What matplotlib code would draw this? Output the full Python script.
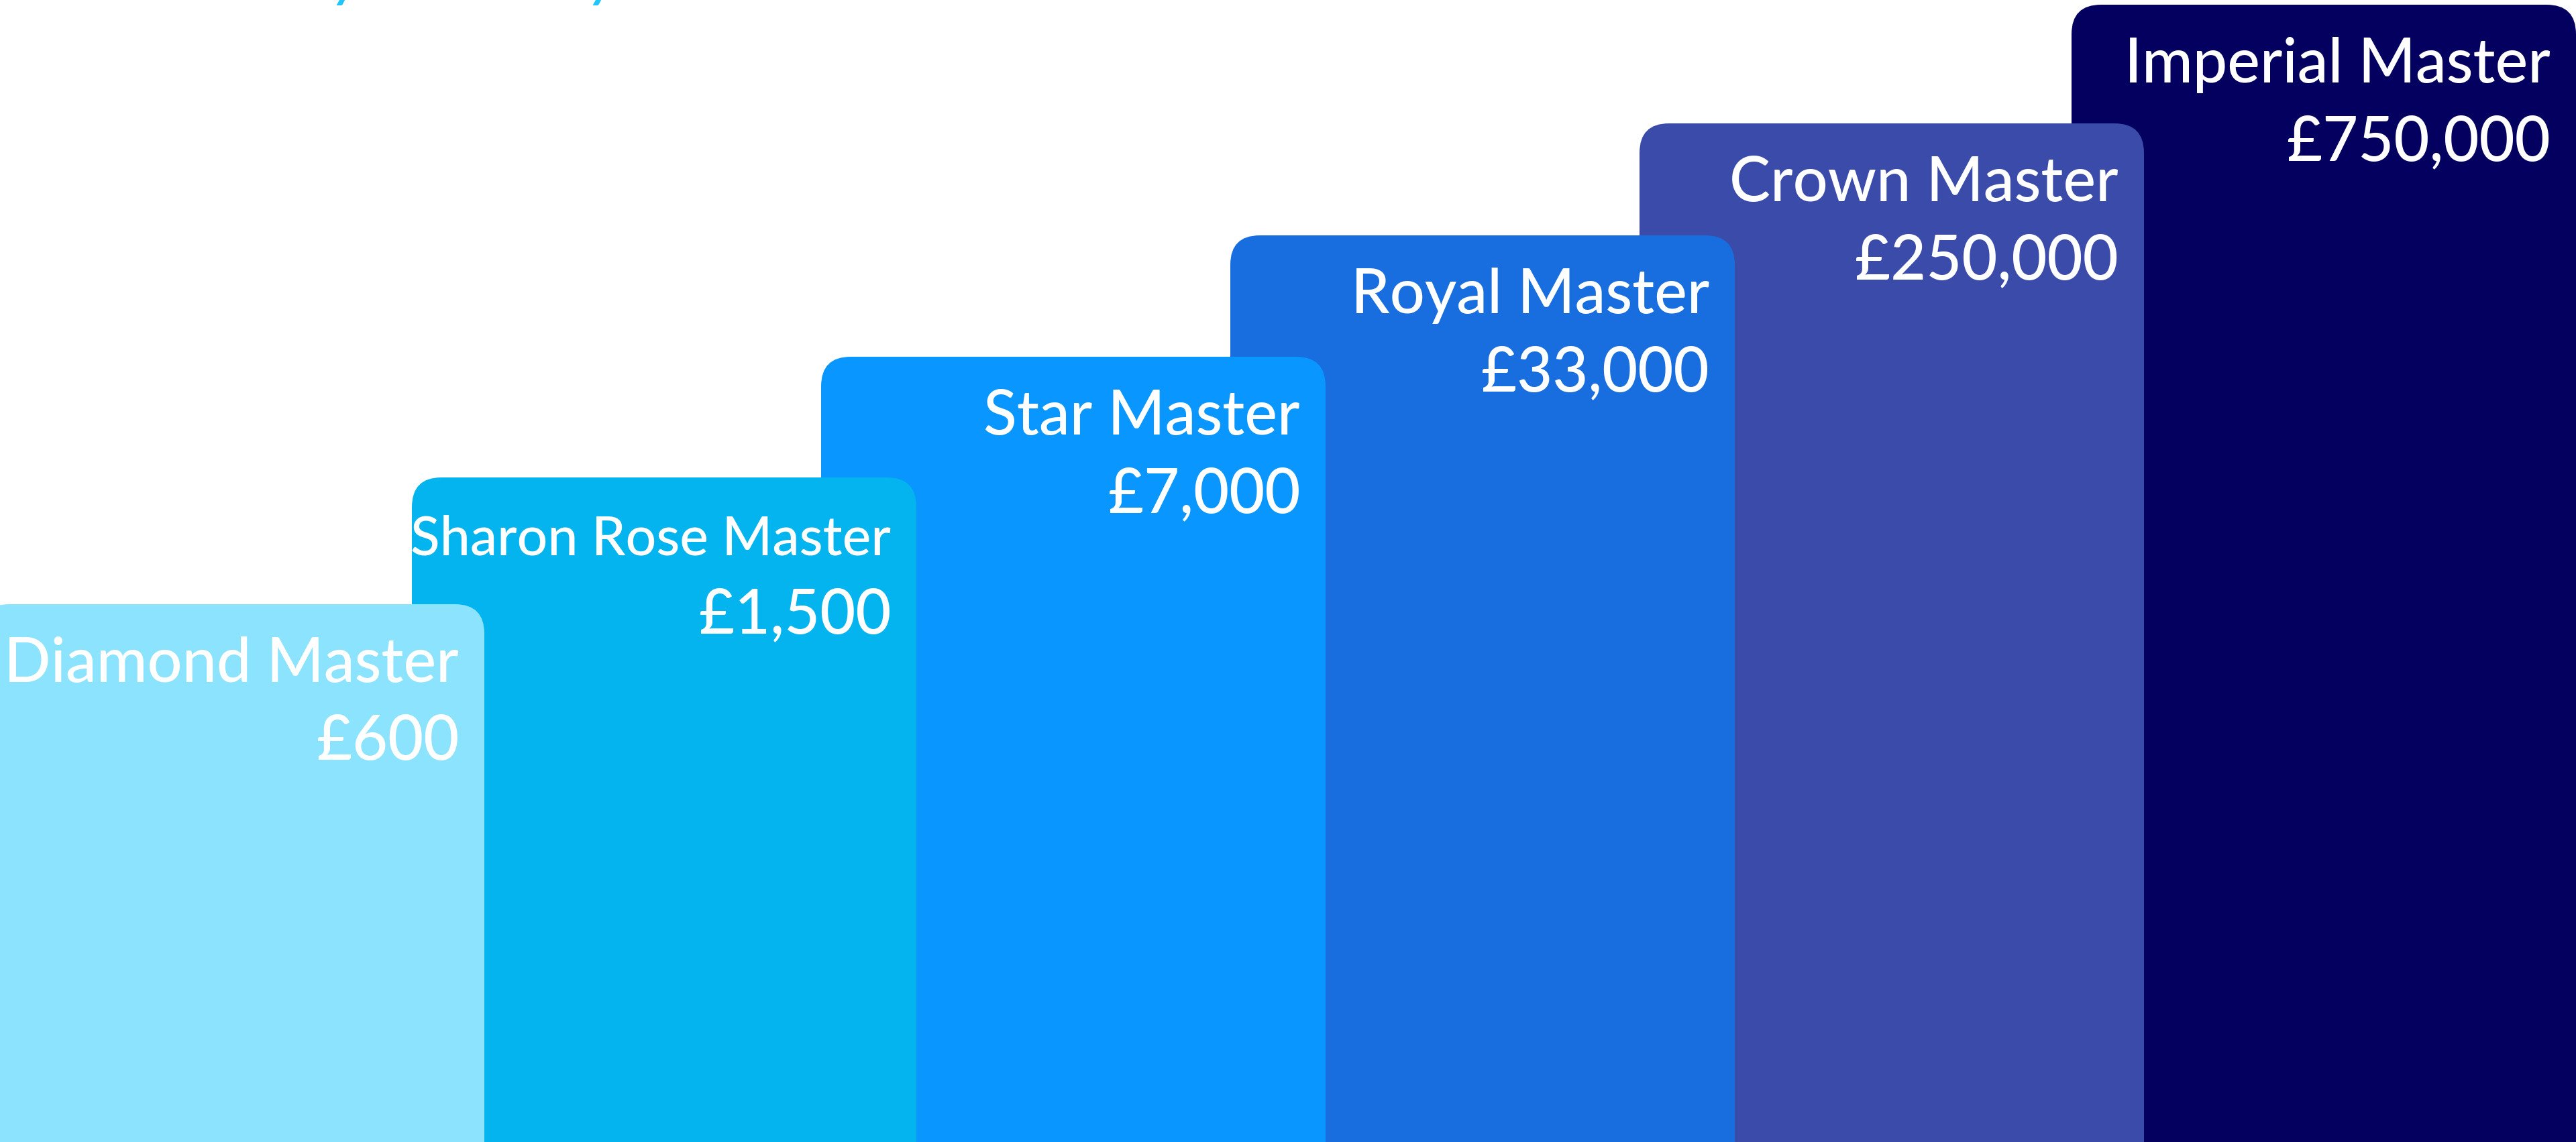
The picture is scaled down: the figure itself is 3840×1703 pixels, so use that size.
import matplotlib.pyplot as plt
from matplotlib.patches import FancyBboxPatch

# tiers, left to right
tiers = ['Diamond Master', 'Sharon Rose Master', 'Star Master',
         'Royal Master', 'Crown Master', 'Imperial Master']
amounts = ['£600', '£1,500', '£7,000', '£33,000', '£250,000', '£750,000']
# height of each step (px up from the bottom edge)
step_height = [802, 991, 1171, 1352, 1519, 1696]
colours = ['#8be3fe', '#04b4ef', '#0a96ff', '#186ede', '#3b4baa', '#03005f']

W, H = 3840, 1703
fig = plt.figure(figsize=(W / 100, H / 100), dpi=100)
ax = fig.add_axes([0, 0, 1, 1])
ax.set_xlim(0, W)
ax.set_ylim(0, H)
ax.axis('off')

bar_w = 752
step = 610
first_inner = 614
bleed = 30
n = len(tiers)

for i, (name, amt, h, c) in enumerate(zip(tiers, amounts, step_height, colours)):
    # inner steps evenly spaced, outer ones run off the edges
    if i == 0:
        left = -bleed
    elif i == n - 1:
        left = W - bar_w
    else:
        left = first_inner + (i - 1) * step
    z = 10 - i  # lower steps overlap the next one
    box = FancyBboxPatch((left, -100), bar_w, h + 100,
                         boxstyle='round,pad=0,rounding_size=44',
                         fc=c, ec='none', zorder=z)
    ax.add_patch(box)
    right = left + bar_w - 38
    fs = 66 if len(name) < 16 else 58
    ax.text(right, h - 116, name, ha='right', va='baseline', fontsize=fs,
            color='white', family='Lato', fontweight='medium', zorder=z + 0.5)
    ax.text(right, h - 232, amt, ha='right', va='baseline', fontsize=66,
            color='white', family='Lato', fontweight='medium', zorder=z + 0.5)

# bottom of a heading that is cut off by the top edge
for fx in (519 / W, 901 / W):
    fig.text(fx, 1 + 9 / H, 'y', ha='center', va='baseline', fontsize=70,
             color='#20c5fa', family='Lato', style='italic')

fig.savefig('out.png', dpi=100)
